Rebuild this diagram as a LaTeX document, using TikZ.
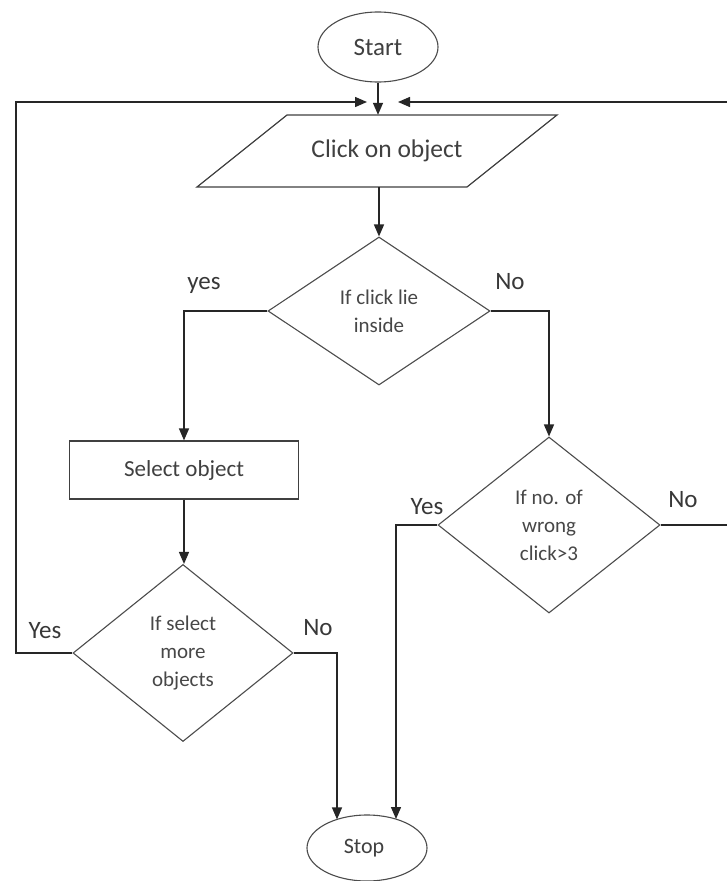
\documentclass[tikz,border=0pt]{standalone}
\usepackage{fontspec}
\setmainfont{Carlito}
\usetikzlibrary{shapes.geometric,arrows.meta,calc}
\begin{document}
\begin{tikzpicture}[x=1pt,y=-1pt,
  flow/.style={draw=black!85,line width=1.4pt},
  arr/.style={flow,-{Triangle[length=12pt,width=10pt]}},
  term/.style={ellipse,draw=black!70,line width=1.1pt,inner sep=0pt,text=black!75},
  cond/.style={diamond,draw=black!70,line width=1.1pt,inner sep=0pt,align=center,
    text=black!72,font=\fontsize{21}{28}\selectfont},
  procbox/.style={rectangle,draw=black!75,line width=1.2pt,inner sep=0pt,text=black!75},
  lbl/.style={font=\fontsize{25}{28}\selectfont,text=black!78}]
\useasboundingbox (0,0) rectangle (727,881);
\fill[white] (0,0) rectangle (727,881);
\clip (0,0) rectangle (727,881);

% terminals
\node[term,minimum width=120pt,minimum height=70pt,font=\fontsize{25}{28}\selectfont] (start) at (378,47) {Start};
\node[term,minimum width=120pt,minimum height=66pt,font=\fontsize{22}{26}\selectfont] (stop) at (367,848) {\hspace*{-6pt}Stop};

% input step (parallelogram outline drawn around the node)
\node[rectangle,inner sep=0pt,minimum width=270pt,minimum height=72pt,
      text=black!75,font=\fontsize{25.5}{30}\selectfont] (click) at (378,151) {\hspace*{18pt}Click on object};
\draw[draw=black!75,line width=1.2pt]
  ($(click.center)+(-91,-36)$) -- ($(click.center)+(179,-36)$) --
  ($(click.center)+(89,36)$) -- ($(click.center)+(-181,36)$) -- cycle;

% decisions and process
\node[cond,minimum width=222pt,minimum height=148pt] (d1) at (379,311) {If click lie\\inside};
\node[procbox,minimum width=229pt,minimum height=58pt,font=\fontsize{23}{26}\selectfont] (sel) at (184,470) {Select object};
\node[cond,minimum width=222pt,minimum height=176pt] (d2) at (549,525) {If no. of\\wrong\\click>3};
\node[cond,minimum width=220pt,minimum height=177pt] (d3) at (183,653) {If select\\more\\objects};

% junction points
\coordinate (joinL) at (367,102);
\coordinate (joinR) at (398,102);
\coordinate (stopL) at ($(stop.center)+(-30,-28.6)$);
\coordinate (stopR) at ($(stop.center)+(29,-29)$);

% connectors
\draw[arr] (start.south) -- (start.south |- click.north);
\draw[arr] (d1.north |- click.south) -- (d1.north);
\draw[arr] (d1.west) -| (sel.north);
\draw[arr] (d1.east) -| (d2.north);
\draw[arr] (sel.south) -- (sel.south |- d3.north);
\draw[arr] (d3.west) -- (16,653) -- (16,102) -- (joinL);
\draw[arr] (d2.east) -- (729,525) -- (729,102) -- (joinR);
\draw[arr] (d3.east) -| (stopL);
\draw[arr] (d2.west) -| (stopR);

% branch labels
\node[lbl] at (204,285) {yes};
\node[lbl] at (510,282) {No};
\node[lbl] at (427,507) {Yes};
\node[lbl] at (683,500) {No};
\node[lbl] at (45,631) {Yes};
\node[lbl] at (318,628) {No};
\end{tikzpicture}
\end{document}
